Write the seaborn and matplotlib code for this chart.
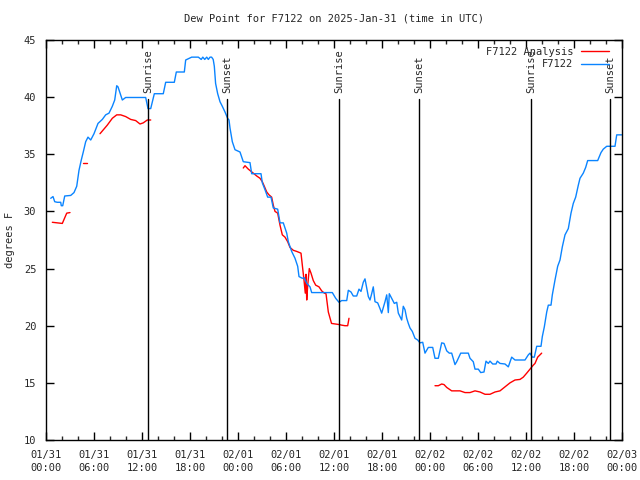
import numpy as np
import pandas as pd
import matplotlib
matplotlib.use("Agg")
import matplotlib.pyplot as plt
import matplotlib.dates as mdates
from matplotlib.lines import Line2D
import seaborn as sns

# ---- data (hours after 2025-01-31 00:00 UTC, dew point in F) ----
blue_hours = [0.59, 0.875, 1.09, 1.41, 1.84, 1.91, 2.09, 2.34, 3.09, 3.5, 3.84, 4.125, 4.41, 4.66,
              4.96, 5.25, 5.59, 6.0, 6.5, 7.04, 7.46, 7.875, 8.29, 8.59, 8.84, 9.0, 9.54, 9.96,
              12.46, 12.75, 13.09, 13.41, 13.54, 14.66, 14.96, 16.04, 16.29, 17.29, 17.46, 18.21,
              19.04, 19.4, 19.6, 19.84, 20.09, 20.29, 20.5, 20.7, 20.9, 21.04, 21.2, 21.46, 21.75,
              22.04, 22.375, 22.7, 22.875, 23.0, 23.29, 23.625, 24.25, 24.66, 25.5, 25.71, 26.875,
              27.04, 27.375, 27.71, 28.125, 28.41, 28.96, 29.25, 29.66, 30.09, 30.29, 30.71, 31.125,
              31.46, 31.625, 32.04, 32.29, 32.59, 33.0, 33.21, 35.79, 36.21, 36.625, 36.96, 37.59,
              37.79, 38.125, 38.41, 38.84, 39.125, 39.375, 39.66, 39.875, 40.09, 40.29, 40.5, 40.71,
              40.91, 41.125, 41.46, 41.75, 41.96, 42.375, 42.59, 42.79, 42.91, 43.21, 43.54, 43.84,
              44.04, 44.25, 44.46, 44.66, 44.875, 45.09, 45.29, 45.5, 45.79, 46.125, 46.46, 46.75,
              47.09, 47.375, 47.79, 48.34, 48.625, 49.04, 49.46, 49.75, 50.09, 50.41, 50.71, 51.125,
              51.34, 51.84, 52.79, 53.0, 53.41, 53.625, 54.04, 54.34, 54.75, 55.0, 55.29, 55.5,
              55.84, 56.25, 56.41, 56.75, 57.375, 57.79, 58.21, 58.625, 59.875, 60.29, 60.5, 60.71,
              60.79, 61.04, 61.34, 61.875, 62.04, 62.29, 62.59, 62.79, 63.125, 63.29, 63.625, 63.96,
              64.25, 64.54, 64.875, 65.29, 65.625, 65.91, 66.21, 66.54, 66.75, 67.16, 67.46, 67.71,
              68.96, 69.375, 69.66, 70.09, 71.125, 71.34, 71.96]
blue_values = [31.15, 31.3, 30.85, 30.8, 30.8, 30.5, 30.5, 31.35, 31.4, 31.65, 32.2, 33.6, 34.5, 35.2,
               36.1, 36.5, 36.25, 36.8, 37.7, 38.05, 38.45, 38.6, 39.2, 39.75, 41.0, 40.9, 39.75, 39.97,
               39.97, 39.0, 39.0, 39.9, 40.3, 40.3, 41.3, 41.3, 42.2, 42.2, 43.25, 43.5,
               43.5, 43.3, 43.5, 43.3, 43.5, 43.3, 43.5, 43.5, 43.3, 42.7, 41.2, 40.3, 39.6,
               39.2, 38.7, 38.15, 38.0, 37.3, 36.1, 35.4, 35.2, 34.35, 34.27, 33.3, 33.3,
               32.5, 31.9, 31.25, 31.25, 30.3, 30.2, 29.0, 29.0, 28.1, 27.35, 26.5, 25.9,
               25.2, 24.3, 24.15, 24.2, 23.7, 23.4, 22.9, 22.9, 22.4, 22.05, 22.2, 22.2,
               23.1, 22.95, 22.6, 22.6, 23.2, 23.0, 23.8, 24.1, 23.3, 22.55, 22.25, 22.8,
               23.4, 22.1, 22.0, 21.5, 21.1, 22.1, 22.7, 21.15, 22.8, 22.4, 21.95, 22.05,
               21.1, 20.8, 20.5, 21.7, 21.4, 20.65, 20.2, 19.8, 19.5, 18.9, 18.75, 18.5,
               18.55, 17.6, 18.1, 18.1, 17.15, 17.15, 18.5, 18.45, 17.8, 17.6, 17.6, 16.6,
               16.85, 17.6, 17.6, 17.15, 16.85, 16.2, 16.2, 15.9, 15.95, 16.9, 16.7, 16.9,
               16.65, 16.65, 16.9, 16.7, 16.65, 16.4, 17.25, 17.0, 17.0, 17.45, 17.6, 17.35,
               17.25, 17.25, 18.2, 18.2, 19.05, 19.9, 21.2, 21.8, 21.8, 22.7, 24.0, 25.2,
               25.75, 26.9, 27.95, 28.5, 29.85, 30.7, 31.25, 32.3, 32.9, 33.35, 33.85, 34.45,
               34.45, 35.15, 35.45, 35.7, 35.7, 36.7, 36.7]

red_segment = [1] * 5 + [2] * 2 + [3] * 12 + [4] * 43 + [5] * 26
red_hours = [0.79, 1.41, 2.04, 2.59, 3.0,
             4.66, 5.09,
             6.75, 7.66, 8.29, 8.84, 9.34, 9.96, 10.59, 11.21, 11.75, 12.16, 12.66, 13.09,
             24.66, 24.875, 25.29, 25.91, 26.34, 26.75, 27.04, 27.29, 27.59, 27.875, 28.21,
             28.41, 28.625, 28.96, 29.25, 29.54, 29.875, 30.21, 30.5, 30.91, 31.34, 31.875,
             32.04, 32.25, 32.41, 32.5, 32.59, 32.71, 32.91, 33.125, 33.41, 33.71, 34.125,
             34.46, 34.79, 35.0, 35.29, 35.69, 36.66, 36.96, 37.375, 37.71, 37.875,
             48.625, 49.04, 49.46, 49.75, 50.09, 50.71, 51.75, 52.375, 53.0, 53.625, 54.25,
             54.875, 55.5, 56.125, 56.75, 57.375, 58.0, 58.625, 59.25, 59.66, 60.09, 60.5,
             60.91, 61.125, 61.46, 61.96]
red_values = [29.05, 29.0, 28.95, 29.85, 29.9,
              34.2, 34.2,
              36.8, 37.55, 38.15, 38.45, 38.45, 38.3, 38.05, 37.95, 37.65, 37.75, 38.0, 38.0,
              33.8, 34.0, 33.7, 33.35, 33.1, 32.9, 32.6, 32.2, 31.7, 31.45, 31.25,
              30.55, 30.0, 29.85, 28.8, 27.95, 27.75, 27.35, 26.85, 26.6, 26.5, 26.35,
              25.3, 24.0, 22.85, 24.5, 22.25, 23.5, 25.0, 24.6, 23.95, 23.55, 23.4,
              23.05, 22.85, 22.8, 21.2, 20.2, 20.1, 20.05, 20.0, 20.0, 20.65,
              14.75, 14.75, 14.9, 14.85, 14.6, 14.3, 14.3, 14.15, 14.15, 14.3, 14.2,
              14.0, 14.0, 14.2, 14.3, 14.65, 15.0, 15.25, 15.3, 15.5, 15.85, 16.2,
              16.55, 16.7, 17.25, 17.6]

sunrise_hours = [12.78, 36.66, 60.66]
sunset_hours = [22.66, 46.66, 70.54]
y_ticks = [10, 15, 20, 25, 30, 35, 40, 45]
title = "Dew Point for F7122 on 2025-Jan-31 (time in UTC)"
series_names = ["F7122 Analysis", "F7122"]
red_color = "#ff0000"
blue_color = "#0a84ff"

base = pd.Timestamp("2025-01-31 00:00")
blue_df = pd.DataFrame({"time": base + pd.to_timedelta(blue_hours, unit="h"),
                        "dew": blue_values})
red_df = pd.DataFrame({"time": base + pd.to_timedelta(red_hours, unit="h"),
                       "dew": red_values, "seg": red_segment})

sns.set_style("ticks")
plt.rcParams["font.family"] = ["DejaVu Sans Mono", "DejaVu Sans"]
plt.rcParams["font.size"] = 7.5

fig = plt.figure(figsize=(6.4, 4.8), dpi=100)
ax = fig.add_axes([46 / 640, 40 / 480, 576 / 640, 400 / 480])

sns.lineplot(data=red_df, x="time", y="dew", units="seg", estimator=None,
             color=red_color, lw=1.0, ax=ax, legend=False)
sns.lineplot(data=blue_df, x="time", y="dew", color=blue_color, lw=1.0, ax=ax, legend=False)

line_top = 0.8525
for h in sunrise_hours:
    t = base + pd.Timedelta(hours=h)
    ax.axvline(t, ymin=0, ymax=line_top, color="black", lw=1.0)
    ax.text(t, line_top + 0.015, "Sunrise", rotation=90, ha="center", va="bottom",
            transform=ax.get_xaxis_transform(), fontsize=7.5)
for h in sunset_hours:
    t = base + pd.Timedelta(hours=h)
    ax.axvline(t, ymin=0, ymax=line_top, color="black", lw=1.0)
    ax.text(t, line_top + 0.015, "Sunset", rotation=90, ha="center", va="bottom",
            transform=ax.get_xaxis_transform(), fontsize=7.5)

ax.set_xlim(base, base + pd.Timedelta(hours=72))
ax.set_ylim(10, 45)
ax.set_yticks(y_ticks)
ax.xaxis.set_major_locator(mdates.HourLocator(byhour=[0, 6, 12, 18]))
ax.xaxis.set_minor_locator(mdates.HourLocator(interval=2))
ax.xaxis.set_major_formatter(mdates.DateFormatter("%m/%d\n%H:%M"))
ax.yaxis.set_minor_locator(matplotlib.ticker.NullLocator())

ax.tick_params(axis="both", which="major", direction="in", length=6, width=1,
               top=True, right=True, labelsize=7.5, color="black")
ax.tick_params(axis="x", which="minor", direction="in", length=3, width=1, top=True)
ax.tick_params(axis="x", which="major", pad=7)
ax.tick_params(axis="y", which="major", pad=7)
for lab in ax.get_xticklabels():
    lab.set_linespacing(1.35)
for s in ax.spines.values():
    s.set_visible(True)
    s.set_color("black")
    s.set_linewidth(1.0)

ax.set_xlabel("")
ax.set_ylabel("degrees F", fontsize=7.5, labelpad=6)
ax.set_title(title, fontsize=7.5, pad=13)

handles = [Line2D([], [], color=red_color, lw=1.0), Line2D([], [], color=blue_color, lw=1.0)]
ax.legend(handles, series_names, loc="upper right", bbox_to_anchor=(0.977, 0.983),
          frameon=False, markerfirst=False, handlelength=2.7, handletextpad=0.7,
          labelspacing=0.25, borderpad=0, borderaxespad=0, fontsize=7.5)

fig.savefig("out.png", dpi=100, facecolor="white")
